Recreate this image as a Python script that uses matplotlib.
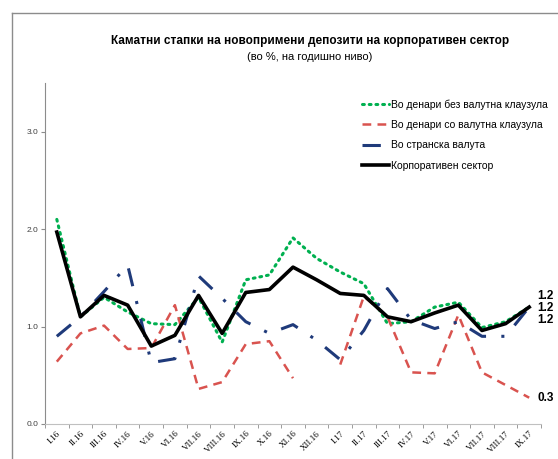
import numpy as np
import matplotlib
matplotlib.use("Agg")
import matplotlib.pyplot as plt
from matplotlib.lines import Line2D

months = ["I.16", "II.16", "III.16", "IV.16", "V.16", "VI.16", "VII.16", "VIII.16",
          "IX.16", "X.16", "XI.16", "XII.16", "I.17", "II.17", "III.17", "IV.17",
          "V.17", "VI.17", "VII.17", "VIII.17", "IX.17"]

# во денари без валутна клаузула
denari_bez = [2.10, 1.10, 1.30, 1.15, 1.03, 1.02, 1.30, 0.84, 1.48, 1.53, 1.91,
              1.70, 1.56, 1.44, 1.03, 1.05, 1.20, 1.25, 0.99, 1.05, 1.20]
# во денари со валутна клаузула (XII.16 нема податок)
denari_so = [0.64, 0.93, 1.01, 0.77, 0.78, 1.22, 0.36, 0.43, 0.82, 0.85, 0.47,
             np.nan, 0.61, 1.31, 1.10, 0.53, 0.52, 1.12, 0.53, 0.40, 0.27]
# во странска валута
stranska = [0.90, 1.10, 1.36, 1.63, 0.63, 0.67, 1.52, 1.29, 1.05, 0.93, 1.02,
            0.86, 0.66, 0.96, 1.39, 1.07, 0.98, 1.05, 0.90, 0.90, 1.20]
# корпоративен сектор
korporativen = [1.97, 1.10, 1.32, 1.22, 0.80, 0.91, 1.32, 0.93, 1.35, 1.38, 1.61,
                1.48, 1.34, 1.32, 1.10, 1.05, 1.14, 1.22, 0.96, 1.03, 1.20]

end_labels = ["1.2", "1.2", "1.2", "0.3"]

plt.rcParams['font.family'] = ['Liberation Sans', 'DejaVu Sans']

fig = plt.figure(figsize=(5.58, 4.59), dpi=100)
ax = fig.add_axes([45 / 558, 35 / 459, 496 / 558, 341 / 459])

x = np.arange(len(months))
gray = "#8c8c8c"

green_ls = (0, (0.6, 1.6))
red_ls = (0, (3.5, 2.5))
blue_ls = (0, (6, 5, 1, 5))

ax.plot(x, denari_bez, color="#00b050", lw=2.2, linestyle=green_ls, dash_capstyle="round")
ax.plot(x, denari_so, color="#d9534f", lw=1.8, linestyle=red_ls)
ax.plot(x, stranska, color="#1f3a7a", lw=2.2, linestyle=blue_ls)
ax.plot(x, korporativen, color="black", lw=2.6)

ax.set_xlim(-0.5, len(months) - 0.5)
ax.set_ylim(0, 3.5)
ax.set_yticks([0, 1, 2, 3])
ax.set_yticklabels(["0.0", "1.0", "2.0", "3.0"], fontsize=6, color="#404040")

ax.set_xticks(x)
ax.set_xticklabels(months, rotation=45, fontsize=6.5, ha="right",
                   rotation_mode="anchor", family="Liberation Serif")
ax.set_xticks(np.arange(-0.5, len(months)), minor=True)
ax.tick_params(axis="x", which="major", length=0, pad=4)
ax.tick_params(axis="x", which="minor", length=3, color=gray)
ax.tick_params(axis="y", length=3, color=gray, pad=2)

for s in ["top", "right"]:
    ax.spines[s].set_visible(False)
ax.spines["left"].set_color(gray)
ax.spines["bottom"].set_color("#c0c0c0")

# вредности на крајот
ys = [296, 308, 320, 398]
for lab, yp in zip(end_labels, ys):
    fig.text(537 / 558, 1 - yp / 459, lab, fontsize=8.5, fontweight="bold",
             va="center", ha="left")

handles = [
    Line2D([], [], color="#00b050", lw=2.2, linestyle=green_ls, dash_capstyle="round"),
    Line2D([], [], color="#d9534f", lw=1.8, linestyle=red_ls),
    Line2D([], [], color="#1f3a7a", lw=2.2, linestyle=blue_ls),
    Line2D([], [], color="black", lw=2.6),
]
labels = ["Во денари без валутна клаузула", "Во денари со валутна клаузула",
          "Во странска валута", "Корпоративен сектор"]
fig.legend(handles, labels, loc="upper left", bbox_to_anchor=(358 / 558, 1 - 95 / 459),
           frameon=False, fontsize=7.5, handlelength=2.6, handletextpad=0.2,
           labelspacing=1.0, borderaxespad=0)

fig.text(310 / 558, 1 - 41 / 459, "Каматни стапки на новопримени депозити на корпоративен сектор",
         ha="center", va="center", fontsize=8.5, fontweight="bold")
fig.text(310 / 558, 1 - 57 / 459, "(во %, на годишно ниво)",
         ha="center", va="center", fontsize=8)

# рамка
fig.add_artist(Line2D([12 / 558, 1], [1 - 13 / 459, 1 - 13 / 459], color=gray, lw=1))
fig.add_artist(Line2D([12 / 558, 12 / 558], [1 - 13 / 459, 0], color=gray, lw=1))

fig.savefig("out.png", dpi=100)
